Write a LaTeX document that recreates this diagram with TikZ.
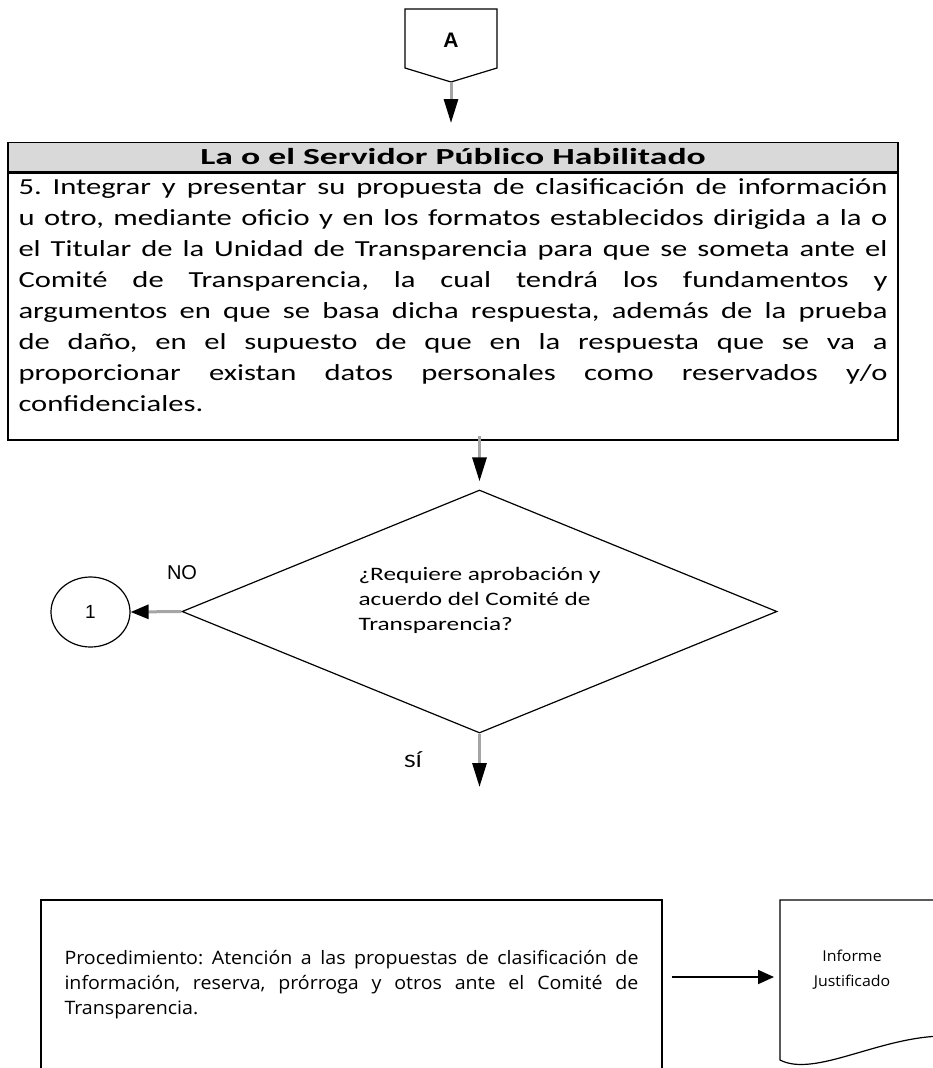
\documentclass[tikz,border=0pt]{standalone}
\usepackage{fontspec}
\setmainfont{Carlito}[FakeStretch=1.33]
\newfontfamily\hdrfont{Carlito}[FakeStretch=1.55]
\newfontfamily\procfont{Open Sans}[FakeStretch=1.06]
\newfontfamily\arialfont{Liberation Sans}
\usepackage{xcolor}
\usepackage{tikz}
\usetikzlibrary{positioning,arrows.meta,shapes.geometric,calc}
\definecolor{hdrgray}{RGB}{217,217,217}
\definecolor{flowgray}{RGB}{165,165,165}
\frenchspacing
\newcommand{\fullline}[1]{\makebox[\linewidth][s]{#1}}
\tikzset{
  box/.style={draw, line width=1.4pt, inner sep=0pt},
  hdrbox/.style={box, fill=hdrgray, minimum width=890pt, minimum height=29pt,
                 font=\hdrfont\bfseries\fontsize{23}{28}\selectfont},
  stepbox/.style={box, minimum width=890pt, minimum height=267pt, anchor=north,
                  font=\fontsize{23}{31}\selectfont},
  procbox/.style={box, minimum width=621pt, minimum height=170pt,
                  font=\procfont\fontsize{18.5}{25}\selectfont},
  decision/.style={diamond, draw, line width=1.2pt, minimum width=595pt,
                   minimum height=243pt, inner sep=0pt},
  connector/.style={ellipse, draw, line width=1.2pt, minimum width=79pt,
                    minimum height=70pt, font=\arialfont\fontsize{19}{22}\selectfont},
  shapeline/.style={line width=1.2pt},
  flow/.style={draw=flowgray, line width=3pt, -{Triangle[length=24pt, width=14pt, color=black]}},
  arrow/.style={draw, line width=1.8pt, -{Triangle[length=16pt, width=14pt]}},
  lbl/.style={font=\arialfont\fontsize{20}{22}\selectfont},
}
\begin{document}
\begin{tikzpicture}[x=1pt, y=-1pt]
  \useasboundingbox (0,0) rectangle (933,1068);
  \clip (0,0) rectangle (933,1068);

  % off-page connector
  \draw[shapeline] (405,9) -- (497,9) -- (497,68) -- (451,82) -- (405,68) -- cycle;
  \node[font=\arialfont\bfseries\fontsize{21}{24}\selectfont] (A) at (451,40) {A};
  \coordinate (Atip) at (451,82);

  % step 5
  \node[hdrbox] (hdr) at (453,157) {La o el Servidor Público Habilitado};
  \node[stepbox] (s5) at (hdr.south) {\parbox[c][255pt][t]{869pt}{%
    \fullline{5. Integrar y presentar su propuesta de clasificación de información}\\
    \fullline{u otro, mediante oficio y en los formatos establecidos dirigida a la o}\\
    \fullline{el Titular de la Unidad de Transparencia para que se someta ante el}\\
    \fullline{Comité de Transparencia, la cual tendrá los fundamentos y}\\
    \fullline{argumentos en que se basa dicha respuesta, además de la prueba}\\
    \fullline{de daño, en el supuesto de que en la respuesta que se va a}\\
    \fullline{proporcionar existan datos personales como reservados y/o}\\
    confidenciales.}};
  \draw[flow] (Atip) -- ++(0,41);

  % decision
  \node[decision] (q) at (479.5,611.5) {};
  \node[anchor=west, align=left, font=\fontsize{19}{25}\selectfont] (qtext) at (355,600)
    {¿Requiere aprobación y\\acuerdo del Comité de\\Transparencia?};
  \node[connector] (c1) at (90.5,612) {1};
  \node[lbl] (no) at (182,573) {NO};
  \node[font=\fontsize{19}{22}\selectfont] (si) at (413,760) {SÍ};
  \coordinate (siend) at (479.5,787);
  \draw[flow] ([yshift=5pt]q.north |- s5.south) -- ([yshift=8pt]q.north);
  \draw[flow, -{Triangle[length=18pt, width=14pt, color=black]}] (q.west) -- (c1.east);
  \draw[flow] (q.south) -- (siend);

  % procedure and report
  \node[procbox] (proc) at (351.5,985) {\parbox{574pt}{%
    \fullline{Procedimiento: Atención a las propuestas de clasificación de}\\
    \fullline{información, reserva, prórroga y otros ante el Comité de}\\
    Transparencia.}};
  \draw[shapeline] (945,900) -- (780,900) -- (780,1060)
    .. controls (815,1078) and (880,1036) .. (945,1036);
  \node[align=center, font=\procfont\fontsize{15}{25}\selectfont] (inf) at (852,970)
    {Informe\\Justificado};
  \coordinate (docL) at (780,977);
  \draw[arrow, shorten >=6pt] ([xshift=9pt]proc.east |- docL) -- (docL);
\end{tikzpicture}
\end{document}
